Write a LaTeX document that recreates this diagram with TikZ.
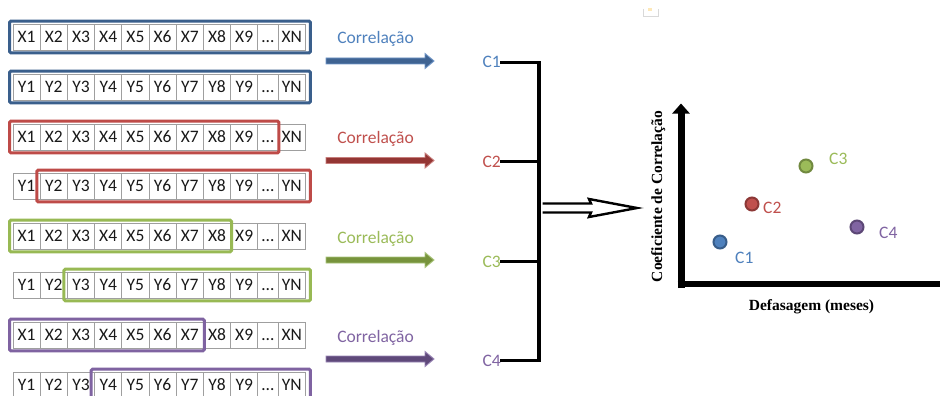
\documentclass[tikz,border=0pt]{standalone}
\usepackage{fontspec}
\setmainfont{Carlito}
\newfontfamily\tnr{Liberation Serif}
\usetikzlibrary{arrows.meta}
\definecolor{cblue}{HTML}{4F81BD}
\definecolor{cblueF}{HTML}{3A5F8C}
\definecolor{cblueA}{HTML}{3F6392}
\definecolor{cblueE}{HTML}{7096C8}
\definecolor{cblueD}{HTML}{385D8A}
\definecolor{cred}{HTML}{C0504D}
\definecolor{credF}{HTML}{BE4B48}
\definecolor{credA}{HTML}{943634}
\definecolor{credE}{HTML}{C77F7D}
\definecolor{credD}{HTML}{8C3836}
\definecolor{cgreen}{HTML}{9BBB59}
\definecolor{cgreenF}{HTML}{98B954}
\definecolor{cgreenA}{HTML}{77933C}
\definecolor{cgreenE}{HTML}{A9C47A}
\definecolor{cgreenD}{HTML}{71893F}
\definecolor{cpurple}{HTML}{8064A2}
\definecolor{cpurpleF}{HTML}{7F63A1}
\definecolor{cpurpleA}{HTML}{5F497A}
\definecolor{cpurpleE}{HTML}{9A86B6}
\definecolor{cpurpleD}{HTML}{5C4776}
\newcommand{\seqrow}[3]{%
  \foreach \k/\xc/\w/\t in {1/26.6/27.2/#31,2/53.8/27.2/#32,3/81/27.2/#33,4/108.2/27.2/#34,5/135.4/27.2/#35,6/162.6/27.2/#36,7/189.8/27.2/#37,8/217/27.2/#38,9/244.2/27.2/#39,10/267.9/20.2/{\ldots},11/291.75/27.5/#3N}
    {\node[cell, minimum width=\w pt] (#1\k) at (\xc,#2) {\t};}%
}
\newcommand{\seqbox}[4]{%
  \draw[seqframe, draw=#1] ([xshift=-3pt,yshift=2.5pt]#2.north west) rectangle ([xshift=#4,yshift=-2.5pt]#3.south east);}
\newcommand{\blockarrow}[3]{%
  \draw[line width=0.9pt, line join=miter, draw=#3, fill=#2] (#1) ++(0,-3) -- ++(99,0) -- ++(0,-4.5) -- ++(9,7.5) -- ++(-9,7.5) -- ++(0,-4.5) -- ++(-99,0) -- cycle;}
\begin{document}
\begin{tikzpicture}[x=1pt,y=-1pt,
  cell/.style={draw=gray!75, line width=0.9pt, fill=white, minimum height=26pt, inner sep=0pt, text height=11.3pt, text depth=0pt, font=\fontsize{17.5}{20}\selectfont, text=black!90},
  seqframe/.style={line width=3pt, rounded corners=1.5pt},
  corr/.style={font=\fontsize{17.5}{20}\selectfont, anchor=base, inner sep=0pt},
  clab/.style={font=\fontsize{17.5}{20}\selectfont, anchor=base east, inner sep=1pt},
  plab/.style={font=\fontsize{17.5}{20}\selectfont, anchor=base west, inner sep=0pt},
  brk/.style={line width=3.2pt, line cap=rect, line join=miter},
  dot/.style={circle, minimum size=13pt, inner sep=0pt, line width=2pt},
  axlab/.style={font=\tnr\bfseries\fontsize{15.5}{18}\selectfont, anchor=base, inner sep=0pt}]
\useasboundingbox (0,0) rectangle (940,396);
\clip (0,0) rectangle (940,396);
\fill[white] (0,0) rectangle (940,396);
% faint paste icon
\draw[gray!30, line width=0.8pt] (643,9) -- (643,16) -- (658,16) -- (658,9);
\fill[yellow!35!orange!25] (648,8.5) rectangle (652,11);
% sequences
\seqrow{a}{37}{X}
\seqrow{b}{87}{Y}
\seqrow{c}{137}{X}
\seqrow{d}{186}{Y}
\seqrow{e}{236}{X}
\seqrow{f}{285}{Y}
\seqrow{g}{335}{X}
\seqrow{h}{385}{Y}
\seqbox{cblueF}{a1}{a11}{4.5pt}
\seqbox{cblueF}{b1}{b11}{4.5pt}
\seqbox{credF}{c1}{c10}{0.5pt}
\seqbox{credF}{d2}{d11}{4.5pt}
\seqbox{cgreenF}{e1}{e8}{0.5pt}
\seqbox{cgreenF}{f3}{f11}{4.5pt}
\seqbox{cpurpleF}{g1}{g7}{0.5pt}
\seqbox{cpurpleF}{h4}{h11}{4.5pt}
% correlation arrows
\coordinate (ar1) at (326,61);
\coordinate (ar2) at (326,160.5);
\coordinate (ar3) at (326,260);
\coordinate (ar4) at (326,359);
\blockarrow{ar1}{cblueA}{cblueE}
\blockarrow{ar2}{credA}{credE}
\blockarrow{ar3}{cgreenA}{cgreenE}
\blockarrow{ar4}{cpurpleA}{cpurpleE}
\node[corr, text=cblue] (k1) at (375.5,44) {Correlação};
\node[corr, text=cred] (k2) at (375.5,143) {Correlação};
\node[corr, text=cgreen] (k3) at (375.5,243) {Correlação};
\node[corr, text=cpurple] (k4) at (375.5,342) {Correlação};
% C labels and bracket
\node[clab, text=cblue] (C1) at (502,68) {C1};
\node[clab, text=cred] (C2) at (502,167.5) {C2};
\node[clab, text=cgreen] (C3) at (502,267) {C3};
\node[clab, text=cpurple] (C4) at (502,366) {C4};
\coordinate (bj) at (541,208);
\draw[line width=2.4pt, line join=miter, fill=white] (542.5,203.5) -- (591,203.5) -- (589,199) -- (637,208) -- (589,217) -- (591,212.5) -- (542.5,212.5);
\draw[brk] (C1.east) -- ++(37,0) |- (C4.east);
\draw[brk] (C2.east) -- ++(37,0);
\draw[brk] (C3.east) -- ++(37,0);
% plot
\coordinate (org) at (681,284);
\draw[line width=7pt, -{Triangle[length=10pt,width=17pt]}] (681,288) -- (681,103.5);
\draw[line width=6.5pt] (677.5,284) -- (940,284);
\node[dot, fill=cblue, draw=cblueD] (p1) at (720,242) {};
\node[dot, fill=cred, draw=credD] (p2) at (752,204) {};
\node[dot, fill=cgreen, draw=cgreenD] (p3) at (806,166) {};
\node[dot, fill=cpurple, draw=cpurpleD] (p4) at (857,227) {};
\node[plab, text=cblue] (q1) at (735,263) {C1};
\node[plab, text=cred] (q2) at (763,213) {C2};
\node[plab, text=cgreen] (q3) at (829,164) {C3};
\node[plab, text=cpurple] (q4) at (879,238) {C4};
\node[axlab] (xl) at (811.5,310) {Defasagem (meses)};
\node[axlab, rotate=90] (yl) at (662,196.5) {Coeficiente de Correlação};
\end{tikzpicture}
\end{document}
